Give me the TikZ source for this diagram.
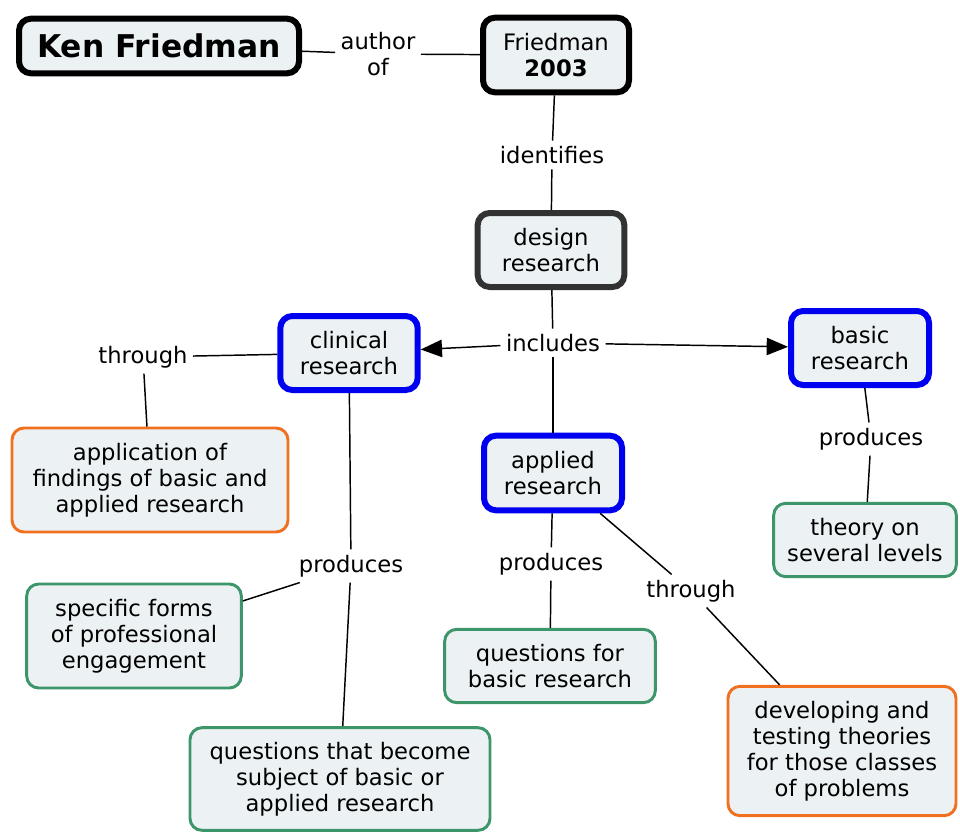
\documentclass[tikz,border=0pt]{standalone}
\usepackage{fontspec}
\setmainfont{DejaVu Sans}
\usepackage{tikz}
\usetikzlibrary{arrows.meta}
\definecolor{boxfill}{RGB}{236,242,244}
\definecolor{kindblue}{RGB}{0,0,240}
\definecolor{wayorange}{RGB}{240,112,32}
\definecolor{outgreen}{RGB}{60,150,105}
\definecolor{maingray}{RGB}{50,50,50}

\begin{document}
\begin{tikzpicture}[x=0.75pt, y=-0.75pt,
    every node/.style={font=\fontsize{17}{19.5}\selectfont, align=center},
    concept/.style={draw, fill=boxfill, rounded corners=9pt, inner sep=2pt},
    topbox/.style={concept, line width=4.5pt, draw=black},
    mainbox/.style={concept, line width=4.5pt, draw=maingray},
    kindbox/.style={concept, line width=4.5pt, draw=kindblue},
    waybox/.style={concept, line width=2.2pt, draw=wayorange},
    outbox/.style={concept, line width=2.2pt, draw=outgreen},
    linking/.style={fill=white, inner sep=4pt},
    link/.style={line width=1.1pt},
    linkarrow/.style={link, -{Triangle[length=16pt,width=13pt]}}]

    \useasboundingbox (0,0) rectangle (960,832);

    % concepts
    \node[topbox, minimum width=210pt, minimum height=41pt, font=\fontsize{23.5}{27}\selectfont\bfseries] (KF) at (159,46) {Ken Friedman};
    \node[topbox, minimum width=109.5pt, minimum height=56pt] (FR) at (556,55) {Friedman\\\textbf{2003}};
    \node[mainbox, minimum width=110pt, minimum height=55.5pt] (DR) at (551,250) {design\\research};
    \node[kindbox, minimum width=103pt, minimum height=55.5pt] (CR) at (349,353) {clinical\\research};
    \node[kindbox, minimum width=103.5pt, minimum height=55.5pt] (BR) at (860,348) {basic\\research};
    \node[kindbox, minimum width=103.5pt, minimum height=56pt] (AR) at (553,473) {applied\\research};
    \node[waybox, minimum width=207pt, minimum height=78pt] (AF) at (150,480) {application of\\findings of basic and\\applied research};
    \node[outbox, minimum width=137pt, minimum height=55pt] (TL) at (865,540) {theory on\\several levels};
    \node[outbox, minimum width=161pt, minimum height=78pt] (SF) at (134,636) {specific forms\\of professional\\engagement};
    \node[outbox, minimum width=158pt, minimum height=55pt] (QB) at (550,666) {questions for\\basic research};
    \node[outbox, minimum width=225pt, minimum height=77pt] (QS) at (340,779) {questions that become\\subject of basic or\\applied research};
    \node[waybox, minimum width=171pt, minimum height=97pt] (DT) at (842,751) {developing and\\testing theories\\for those classes\\of problems};

    % linking phrases
    \node[linking] (L1) at (378,54) {author\\of};
    \node[linking] (L2) at (552,155) {identifies};
    \node[linking] (L3) at (553,343) {includes};
    \node[linking] (L4) at (143,357) {through};
    \node[linking] (L5) at (351,566) {produces};
    \node[linking] (L6) at (551,564) {produces};
    \node[linking] (L7) at (691,591) {through};
    \node[linking] (L8) at (871,439) {produces};

    % connections
    \draw[link] (KF) -- (L1);
    \draw[link] (L1) -- (FR);
    \draw[link] (FR) -- (L2);
    \draw[link] (L2) -- (DR);
    \draw[link] (DR) -- (L3);
    \draw[linkarrow] (L3) -- (CR);
    \draw[linkarrow] (L3) -- (BR);
    \draw[link] (L3) -- (AR);
    \draw[link] (CR) -- (L4);
    \draw[link] (L4) -- (AF);
    \draw[link] (CR) -- (L5);
    \draw[link] (L5) -- (SF);
    \draw[link] (L5) -- (QS);
    \draw[link] (AR) -- (L6);
    \draw[link] (L6) -- (QB);
    \draw[link] (AR) -- (L7);
    \draw[link] (L7) -- (DT);
    \draw[link] (BR) -- (L8);
    \draw[link] (L8) -- (TL);
\end{tikzpicture}
\end{document}
